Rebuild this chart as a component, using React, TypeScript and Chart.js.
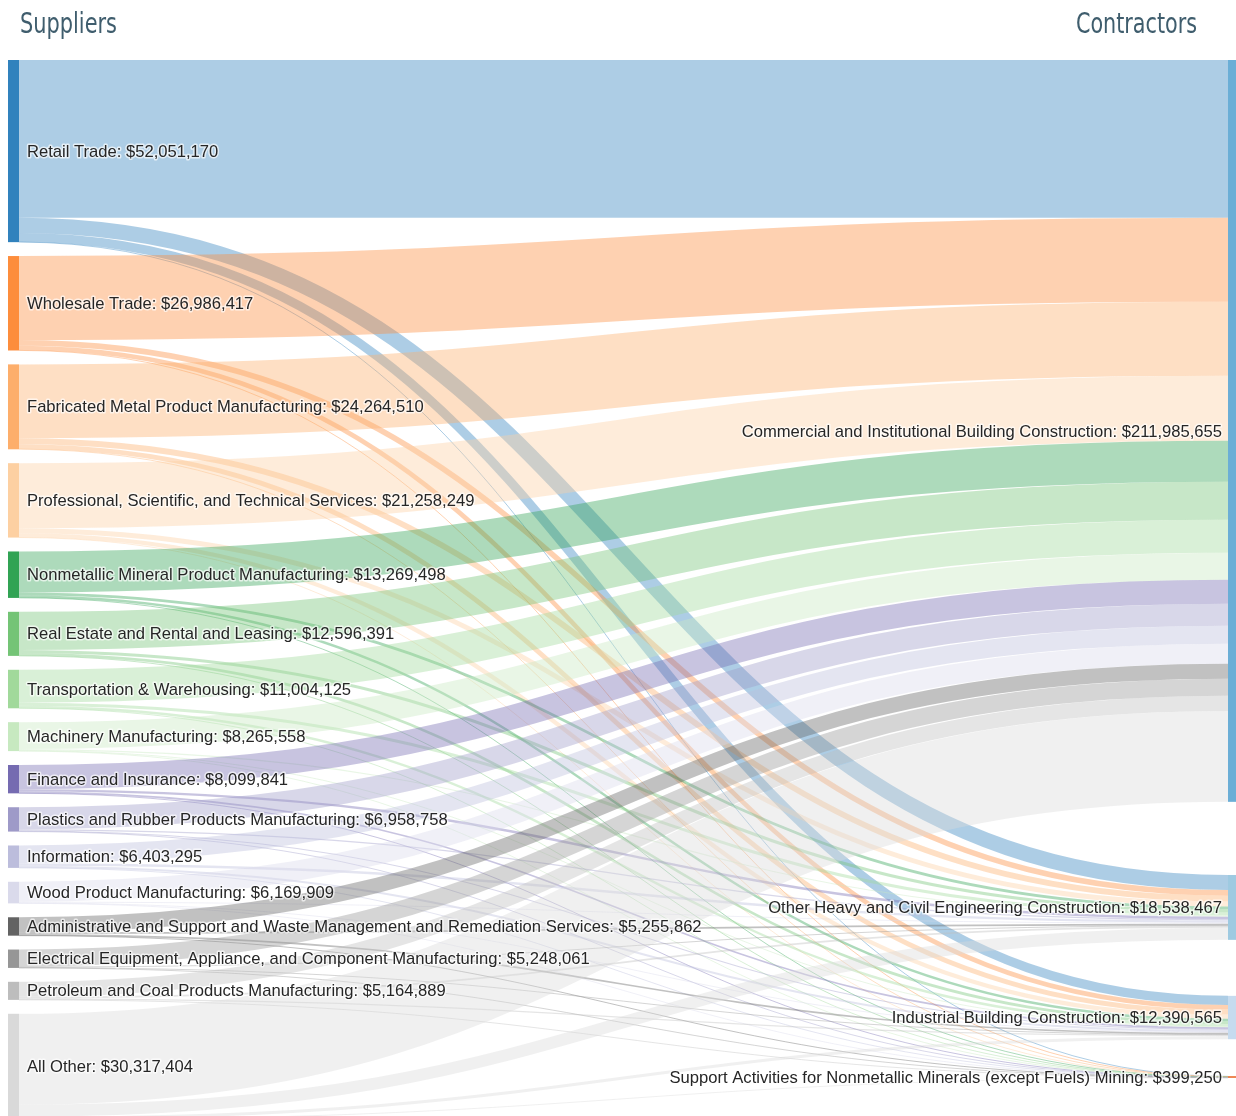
import React, { useEffect, useRef } from "react";
import { Chart, registerables } from "chart.js";

Chart.register(...registerables);

// ---------- DATA ----------
const suppliers = [
  "Retail Trade",
  "Wholesale Trade",
  "Fabricated Metal Product Manufacturing",
  "Professional, Scientific, and Technical Services",
  "Nonmetallic Mineral Product Manufacturing",
  "Real Estate and Rental and Leasing",
  "Transportation & Warehousing",
  "Machinery Manufacturing",
  "Finance and Insurance",
  "Plastics and Rubber Products Manufacturing",
  "Information",
  "Wood Product Manufacturing",
  "Administrative and Support and Waste Management and Remediation Services",
  "Electrical Equipment, Appliance, and Component Manufacturing",
  "Petroleum and Coal Products Manufacturing",
  "All Other",
];
const supplierTotals = [
  52051170, 26986417, 24264510, 21258249, 13269498, 12596391, 11004125, 8265558,
  8099841, 6958758, 6403295, 6169909, 5255862, 5248061, 5164889, 30317404,
];

const contractors = [
  "Commercial and Institutional Building Construction",
  "Other Heavy and Civil Engineering Construction",
  "Industrial Building Construction",
  "Support Activities for Nonmetallic Minerals (except Fuels) Mining",
];
const contractorTotals = [211985655, 18538467, 12390565, 399250];

// flows ($ millions) from each supplier (in supplier order) to each contractor
const toCommercial = [45.1, 24.0, 21.1, 18.6, 11.7, 10.9, 9.4, 7.7, 6.9, 6.3, 5.1, 5.7, 4.3, 4.9, 4.3, 25.99];
const toOtherHeavy = [4.3, 1.6, 1.7, 1.4, 0.8, 0.9, 0.9, 0.3, 0.7, 0.35, 0.7, 0.25, 0.5, 0.2, 0.5, 3.44];
const toIndustrial = [2.6, 1.33, 1.4, 1.22, 0.72, 0.78, 0.68, 0.25, 0.49, 0.3, 0.59, 0.21, 0.45, 0.14, 0.35, 0.88];
const toSupport = [0.05, 0.06, 0.06, 0.04, 0.05, 0.02, 0.02, 0.02, 0.01, 0.01, 0.01, 0.01, 0.01, 0.01, 0.01, 0.01];

// ---------- STYLE ----------
const supplierColors = [
  "#3182bd", "#fd8d3c", "#fdae6b", "#fdd0a2",
  "#31a354", "#74c476", "#a1d99b", "#c7e9c0",
  "#756bb1", "#9e9ac8", "#bcbddc", "#dadaeb",
  "#636363", "#969696", "#bdbdbd", "#d9d9d9",
];
const contractorColors = ["#6baed6", "#9ecae1", "#c6dbef", "#e6550d"];

const LEFT_GAP = 3.97; // gap between supplier nodes (value units, $M)
const RIGHT_GAPS = [20.9, 16.0, 10.6]; // gaps between contractor nodes ($M)
const Y_SPAN = 302.9; // $M shown over the plot height
const LINK_ALPHA = 0.4;

function rgba(hex: string, a: number) {
  const n = parseInt(hex.slice(1), 16);
  return `rgba(${(n >> 16) & 255},${(n >> 8) & 255},${n & 255},${a})`;
}
function fmt(v: number) {
  return "$" + v.toLocaleString("en-US");
}

export default function App() {
  const ref = useRef<HTMLCanvasElement>(null);

  useEffect(() => {
    const canvas = ref.current!;
    const flows = [toCommercial, toOtherHeavy, toIndustrial, toSupport];

    const sankeyPlugin = {
      id: "sankeyDraw",
      afterDraw(chart: any) {
        const ctx: CanvasRenderingContext2D = chart.ctx;
        const xs = chart.scales.x;
        const ys = chart.scales.y;
        const k = ys.getPixelForValue(1) - ys.getPixelForValue(0);
        const leftX0 = xs.getPixelForValue(0);
        const leftX1 = leftX0 + 11;
        const rightX1 = xs.getPixelForValue(1);
        const rightX0 = rightX1 - 8;

        // node positions in value units
        const sStart: number[] = [];
        let acc = 0;
        supplierTotals.forEach((t) => {
          sStart.push(acc);
          acc += t / 1e6 + LEFT_GAP;
        });
        const cStart: number[] = [];
        acc = 0;
        contractorTotals.forEach((t, j) => {
          cStart.push(acc);
          acc += t / 1e6 + (RIGHT_GAPS[j] ?? 0);
        });

        // source offsets ordered by target; target offsets ordered by source
        const tOff = contractorTotals.map(() => 0);
        const linkList: { i: number; j: number; v: number; sy: number; ty: number }[] = [];
        suppliers.forEach((_, i) => {
          let sOff = 0;
          flows.forEach((arr, j) => {
            const v = arr[i];
            const sy = sStart[i] + sOff + v / 2;
            const ty = cStart[j] + tOff[j] + v / 2;
            sOff += v;
            tOff[j] += v;
            linkList.push({ i, j, v, sy, ty });
          });
        });

        ctx.save();
        // links
        ctx.lineCap = "butt";
        linkList.forEach(({ i, v, sy, ty }) => {
          const y0 = ys.getPixelForValue(sy);
          const y1 = ys.getPixelForValue(ty);
          const xm = (leftX1 + rightX0) / 2;
          ctx.beginPath();
          ctx.moveTo(leftX1, y0);
          ctx.bezierCurveTo(xm, y0, xm, y1, rightX0, y1);
          ctx.lineWidth = Math.max(1, v * k);
          ctx.strokeStyle = rgba(supplierColors[i], LINK_ALPHA);
          ctx.stroke();
        });

        // nodes
        supplierTotals.forEach((t, i) => {
          const y0 = ys.getPixelForValue(sStart[i]);
          const y1 = ys.getPixelForValue(sStart[i] + t / 1e6);
          ctx.fillStyle = supplierColors[i];
          ctx.fillRect(leftX0, y0, leftX1 - leftX0, Math.max(1, y1 - y0));
        });
        contractorTotals.forEach((t, j) => {
          const y0 = ys.getPixelForValue(cStart[j]);
          const y1 = ys.getPixelForValue(cStart[j] + t / 1e6);
          ctx.fillStyle = contractorColors[j];
          ctx.fillRect(rightX0, y0, rightX1 - rightX0, Math.max(1, y1 - y0));
        });

        // labels
        ctx.font = "16.6px 'Liberation Sans', Arial, sans-serif";
        ctx.textBaseline = "middle";
        ctx.lineJoin = "round";
        const drawLabel = (txt: string, x: number, y: number, align: CanvasTextAlign) => {
          ctx.textAlign = align;
          ctx.strokeStyle = "rgba(255,255,255,0.65)";
          ctx.lineWidth = 3;
          ctx.strokeText(txt, x, y);
          ctx.fillStyle = "#262626";
          ctx.fillText(txt, x, y);
        };
        suppliers.forEach((name, i) => {
          const yc = ys.getPixelForValue(sStart[i] + supplierTotals[i] / 2e6);
          drawLabel(`${name}: ${fmt(supplierTotals[i])}`, leftX1 + 8, yc + 1, "left");
        });
        contractors.forEach((name, j) => {
          const yc = ys.getPixelForValue(cStart[j] + contractorTotals[j] / 2e6);
          drawLabel(`${name}: ${fmt(contractorTotals[j])}`, rightX0 - 6, yc + 1, "right");
        });

        // column titles
        const drawTitle = (txt: string, x: number, targetW: number, align: "left" | "right") => {
          ctx.save();
          ctx.font = "300 29px 'Liberation Sans Narrow', 'DejaVu Sans Condensed', sans-serif";
          ctx.textAlign = "left";
          ctx.textBaseline = "alphabetic";
          const w = ctx.measureText(txt).width;
          const sx = targetW / w;
          const left = align === "left" ? x : x - targetW;
          ctx.translate(left, 33);
          ctx.scale(sx, 1);
          ctx.fillStyle = "#3f5d6d";
          ctx.fillText(txt, 0, 0);
          ctx.restore();
        };
        drawTitle("Suppliers", 20, 97, "left");
        drawTitle("Contractors", 1197, 121, "right");
        ctx.restore();
      },
    };

    const chart = new Chart(canvas, {
      type: "scatter",
      data: { datasets: [{ data: [], pointRadius: 0 }] },
      options: {
        animation: false,
        responsive: false,
        devicePixelRatio: 1,
        layout: { padding: { top: 60, left: 8, right: 0, bottom: 0 } },
        scales: {
          x: { type: "linear", min: 0, max: 1, display: false },
          y: { type: "linear", min: 0, max: Y_SPAN, reverse: true, display: false },
        },
        plugins: { legend: { display: false }, tooltip: { enabled: false } },
      },
      plugins: [sankeyPlugin],
    } as any);
    return () => chart.destroy();
  }, []);

  return (
    <div
      style={{
        position: "fixed",
        left: 0,
        top: 0,
        width: 1236,
        height: 1116,
        overflow: "hidden",
        background: "#fff",
      }}
    >
      <canvas ref={ref} width={1236} height={1120} style={{ display: "block" }} />
    </div>
  );
}
